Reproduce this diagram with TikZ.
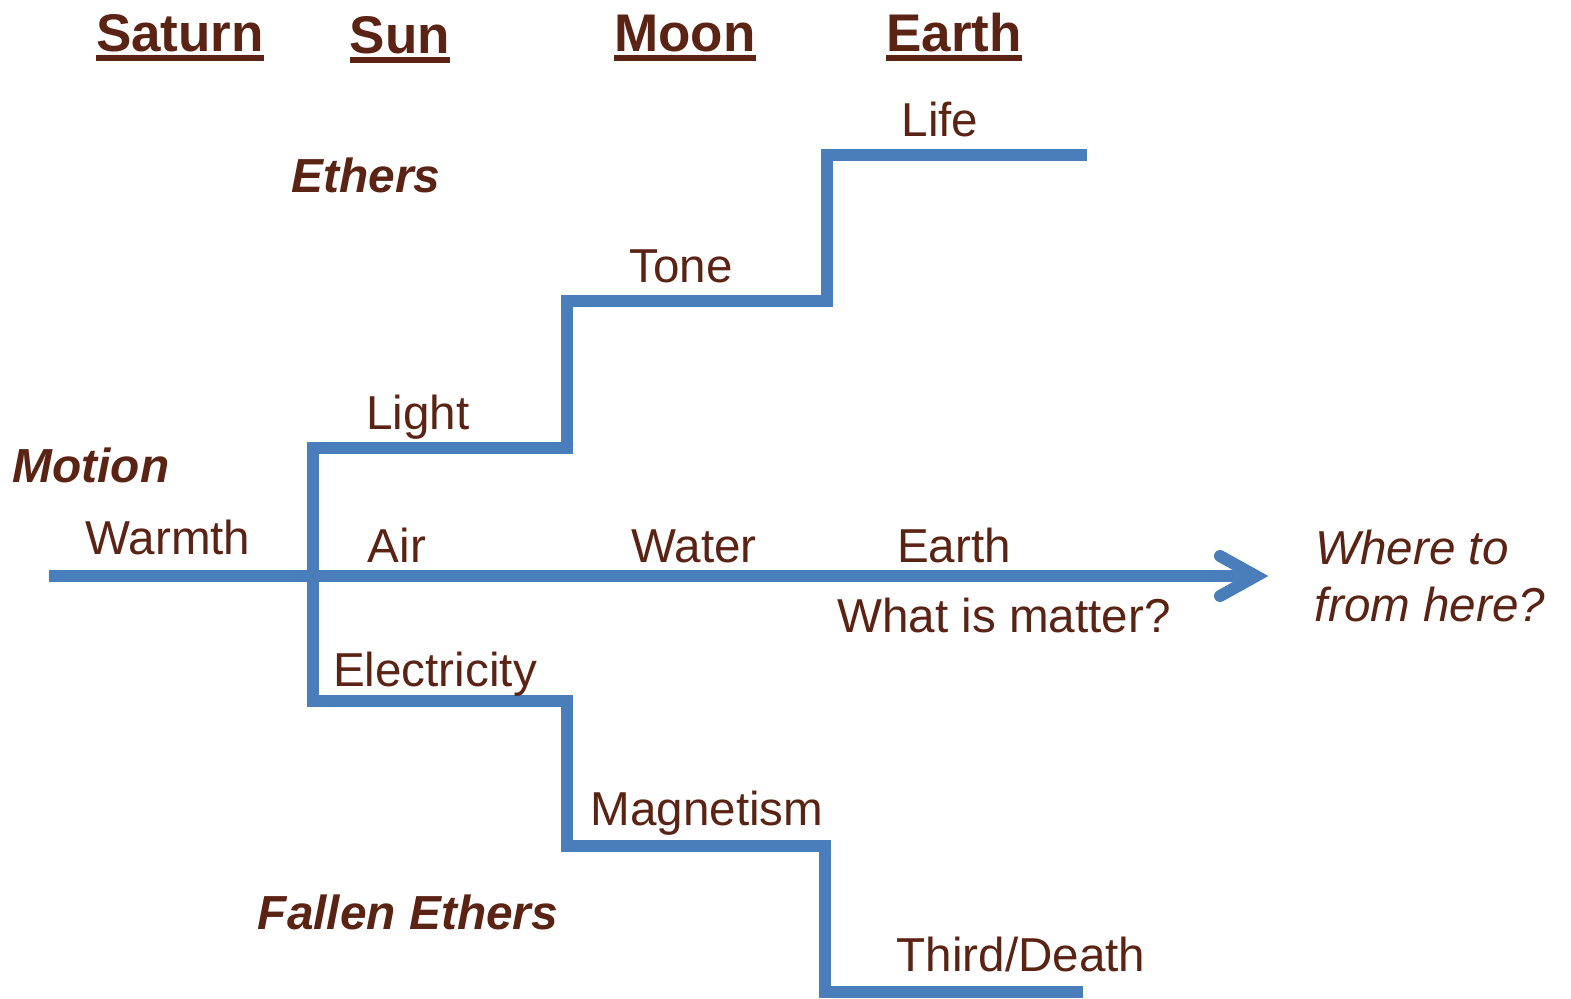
\documentclass[tikz,border=0pt]{standalone}
\usepackage{fontspec}
\setmainfont{Liberation Sans}
\definecolor{stepblue}{HTML}{4A7EBB}
\definecolor{txtbrown}{HTML}{5A2314}
\begin{document}
\begin{tikzpicture}[x=0.5pt,y=-0.5pt,
  lbl/.style={anchor=base,inner sep=0pt,text=txtbrown,font=\fontsize{23.8}{28}\selectfont},
  emph/.style={lbl,font=\fontsize{23.9}{28}\selectfont\bfseries\itshape},
  ital/.style={lbl,font=\fontsize{23.8}{28}\selectfont\itshape},
  head/.style={lbl,font=\fontsize{26.5}{32}\selectfont\bfseries},
  ul/.style={draw=txtbrown,line width=2.8pt},
  stair/.style={draw=stepblue,line width=6pt,line join=miter,line cap=butt},
  chev/.style={draw=stepblue,line width=6pt,line join=miter,line cap=round}]
\useasboundingbox (0,0) rectangle (1571,998);
% headers
\node[head] (saturn) at (180,51) {Saturn};
\node[head] (sun) at (400,53) {Sun};
\node[head] (moon) at (685,51) {Moon};
\node[head] (earthh) at (954,51) {Earth};
\foreach \n in {saturn,sun,moon,earthh}
  \draw[ul] ([yshift=-3.5pt]\n.base west) -- ([yshift=-3.5pt]\n.base east);
% coordinates
\coordinate (w) at (49,576);
\coordinate (tip) at (1256,576);
\coordinate (ca) at (1220,556);
\coordinate (cb) at (1220,596);
\coordinate (j) at (313,576);
\coordinate (u1) at (313,448);
\coordinate (u2) at (567,448);
\coordinate (u3) at (567,301);
\coordinate (u4) at (827,301);
\coordinate (u5) at (827,155);
\coordinate (u6) at (1087,155);
\coordinate (d1) at (313,701);
\coordinate (d2) at (567,701);
\coordinate (d3) at (567,846);
\coordinate (d4) at (825,846);
\coordinate (d5) at (825,992);
\coordinate (d6) at (1083,992);
% lines
\draw[stair] (w) -- (tip);
\draw[chev] (ca) -- (tip) -- (cb);
\draw[stair] (u6) -- (u5) -- (u4) -- (u3) -- (u2) -- (u1) -- (d1) -- (d2) -- (d3) -- (d4) -- (d5) -- (d6);
% labels
\node[emph] (ethers) at (366,192) {Ethers};
\node[lbl] (life) at (940,136) {Life};
\node[lbl] (tone) at (681,282) {Tone};
\node[lbl] (light) at (418,429) {Light};
\node[emph] (motion) at (91,482) {Motion};
\node[lbl] (warmth) at (168,554) {Warmth};
\node[lbl] (air) at (397,562) {Air};
\node[lbl] (water) at (694,562) {Water};
\node[lbl] (earth) at (954,562) {Earth};
\node[lbl] (matter) at (1004,632) {What is matter?};
\node[ital] (where) at (1412,564) {Where to};
\node[ital] (fromhere) at (1430,621) {from here?};
\node[lbl] (elec) at (435,686) {Electricity};
\node[lbl] (magn) at (707,825) {Magnetism};
\node[emph] (fallen) at (408,929) {Fallen Ethers};
\node[lbl] (third) at (1021,971) {Third/Death};
\end{tikzpicture}
\end{document}
